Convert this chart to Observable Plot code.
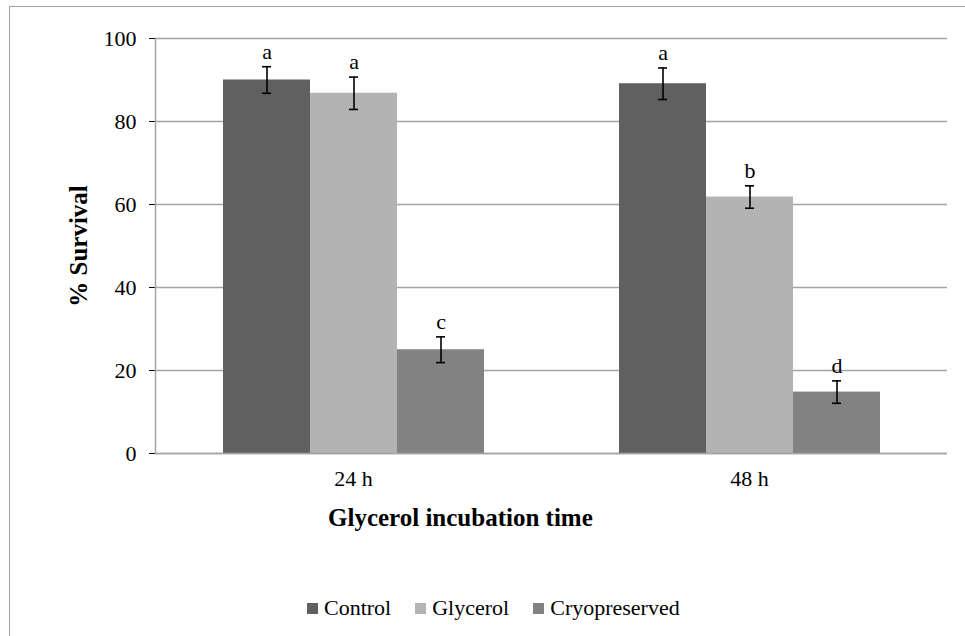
<!DOCTYPE html>
<html>
<head>
<meta charset="utf-8">
<script src="https://cdn.jsdelivr.net/npm/d3@7"></script>
<script src="https://cdn.jsdelivr.net/npm/@observablehq/plot@0.6"></script>
<style>
  html, body { margin: 0; padding: 0; background: #fff; }
  #wrap { position: relative; width: 965px; height: 636px; overflow: hidden; }
  #wrap, #wrap svg, #wrap svg text, #legend span { font-family: "Liberation Serif", "DejaVu Serif", serif !important; }
  #border { position: absolute; left: 9px; top: 6px; width: 980px; height: 660px; border: 1.5px solid #a3a3a3; box-sizing: border-box; }
  #chart { position: absolute; left: 0; top: 0; }
  #legend { position: absolute; left: 307px; top: 595px; display: flex; align-items: center; gap: 24px;
            font-size: 22px; line-height: 26px; color: #000; }
  #legend .item { display: flex; align-items: center; gap: 6px; }
  #legend .sw { width: 11px; height: 11px; display: inline-block; }
  g[aria-label="y-axis label"] text { font-weight: bold; font-size: 25px; }
</style>
</head>
<body>
<div id="wrap">
  <div id="border"></div>
  <div id="chart"></div>
  <div id="legend"></div>
</div>
<script>
const groups = ["24 h", "48 h"];
const series = ["Control", "Glycerol", "Cryopreserved"];
const colors = ["#606060", "#b3b3b3", "#828282"];
const means24 = [90.0, 86.8, 25.0];
const means48 = [89.1, 61.8, 14.8];
const err24 = [3.2, 3.9, 3.1];
const err48 = [3.8, 2.7, 2.7];
const letters24 = ["a", "a", "c"];
const letters48 = ["a", "b", "d"];
const yTicks = [0, 20, 40, 60, 80, 100];

const data = [];
series.forEach((s, i) => {
  data.push({time: groups[0], series: s, value: means24[i], err: err24[i], letter: letters24[i]});
  data.push({time: groups[1], series: s, value: means48[i], err: err48[i], letter: letters48[i]});
});

const chart = Plot.plot({
  width: 965,
  height: 560,
  marginLeft: 154,
  marginRight: 18,
  marginTop: 38,
  marginBottom: 107,
  style: {fontFamily: "'Liberation Serif', 'DejaVu Serif', serif", fontSize: "22px", color: "#000", background: "transparent"},
  fx: {domain: groups, padding: 0, label: null, axis: "bottom", tickSize: 0, tickPadding: 17},
  x: {domain: series, paddingInner: 0, paddingOuter: 0.753, axis: null},
  y: {domain: [0, 100], ticks: yTicks, tickSize: 6, tickPadding: 13, label: "% Survival", labelAnchor: "center", labelOffset: 86, labelArrow: "none", grid: false},
  color: {domain: series, range: colors},
  marks: [
    Plot.gridY(yTicks, {stroke: "#a3a3a3", strokeOpacity: 1, strokeWidth: 1.5}),
    Plot.barY(data, {fx: "time", x: "series", y: "value", fill: "series"}),
    Plot.ruleX(data, {fx: "time", x: "series", y1: d => d.value - d.err, y2: d => d.value + d.err, stroke: "#000", strokeWidth: 1.6}),
    Plot.tickY(data, {fx: "time", x: "series", y: d => d.value - d.err, stroke: "#000", strokeWidth: 1.6, insetLeft: 39, insetRight: 39}),
    Plot.tickY(data, {fx: "time", x: "series", y: d => d.value + d.err, stroke: "#000", strokeWidth: 1.6, insetLeft: 39, insetRight: 39}),
    Plot.text(data, {fx: "time", x: "series", y: d => d.value + d.err, text: "letter", dy: -15, lineAnchor: "middle", fontSize: 22, fill: "#000"}),
    Plot.ruleY([0], {stroke: "#a3a3a3", strokeWidth: 1.5}),
    Plot.frame({anchor: "left", facet: "super", stroke: "#a3a3a3", strokeWidth: 1.5}),
    Plot.text(["Glycerol incubation time"], {facet: "super", frameAnchor: "bottom", textAnchor: "start", dx: -223.5, dy: 64, lineAnchor: "middle", fontSize: 25, fontWeight: "bold", fill: "#000"})
  ]
});
document.getElementById("chart").appendChild(chart);

const legend = document.getElementById("legend");
series.forEach((s, i) => {
  const item = document.createElement("div");
  item.className = "item";
  const sw = document.createElement("span");
  sw.className = "sw";
  sw.style.background = colors[i];
  const t = document.createElement("span");
  t.textContent = s;
  item.appendChild(sw);
  item.appendChild(t);
  legend.appendChild(item);
});
</script>
</body>
</html>
